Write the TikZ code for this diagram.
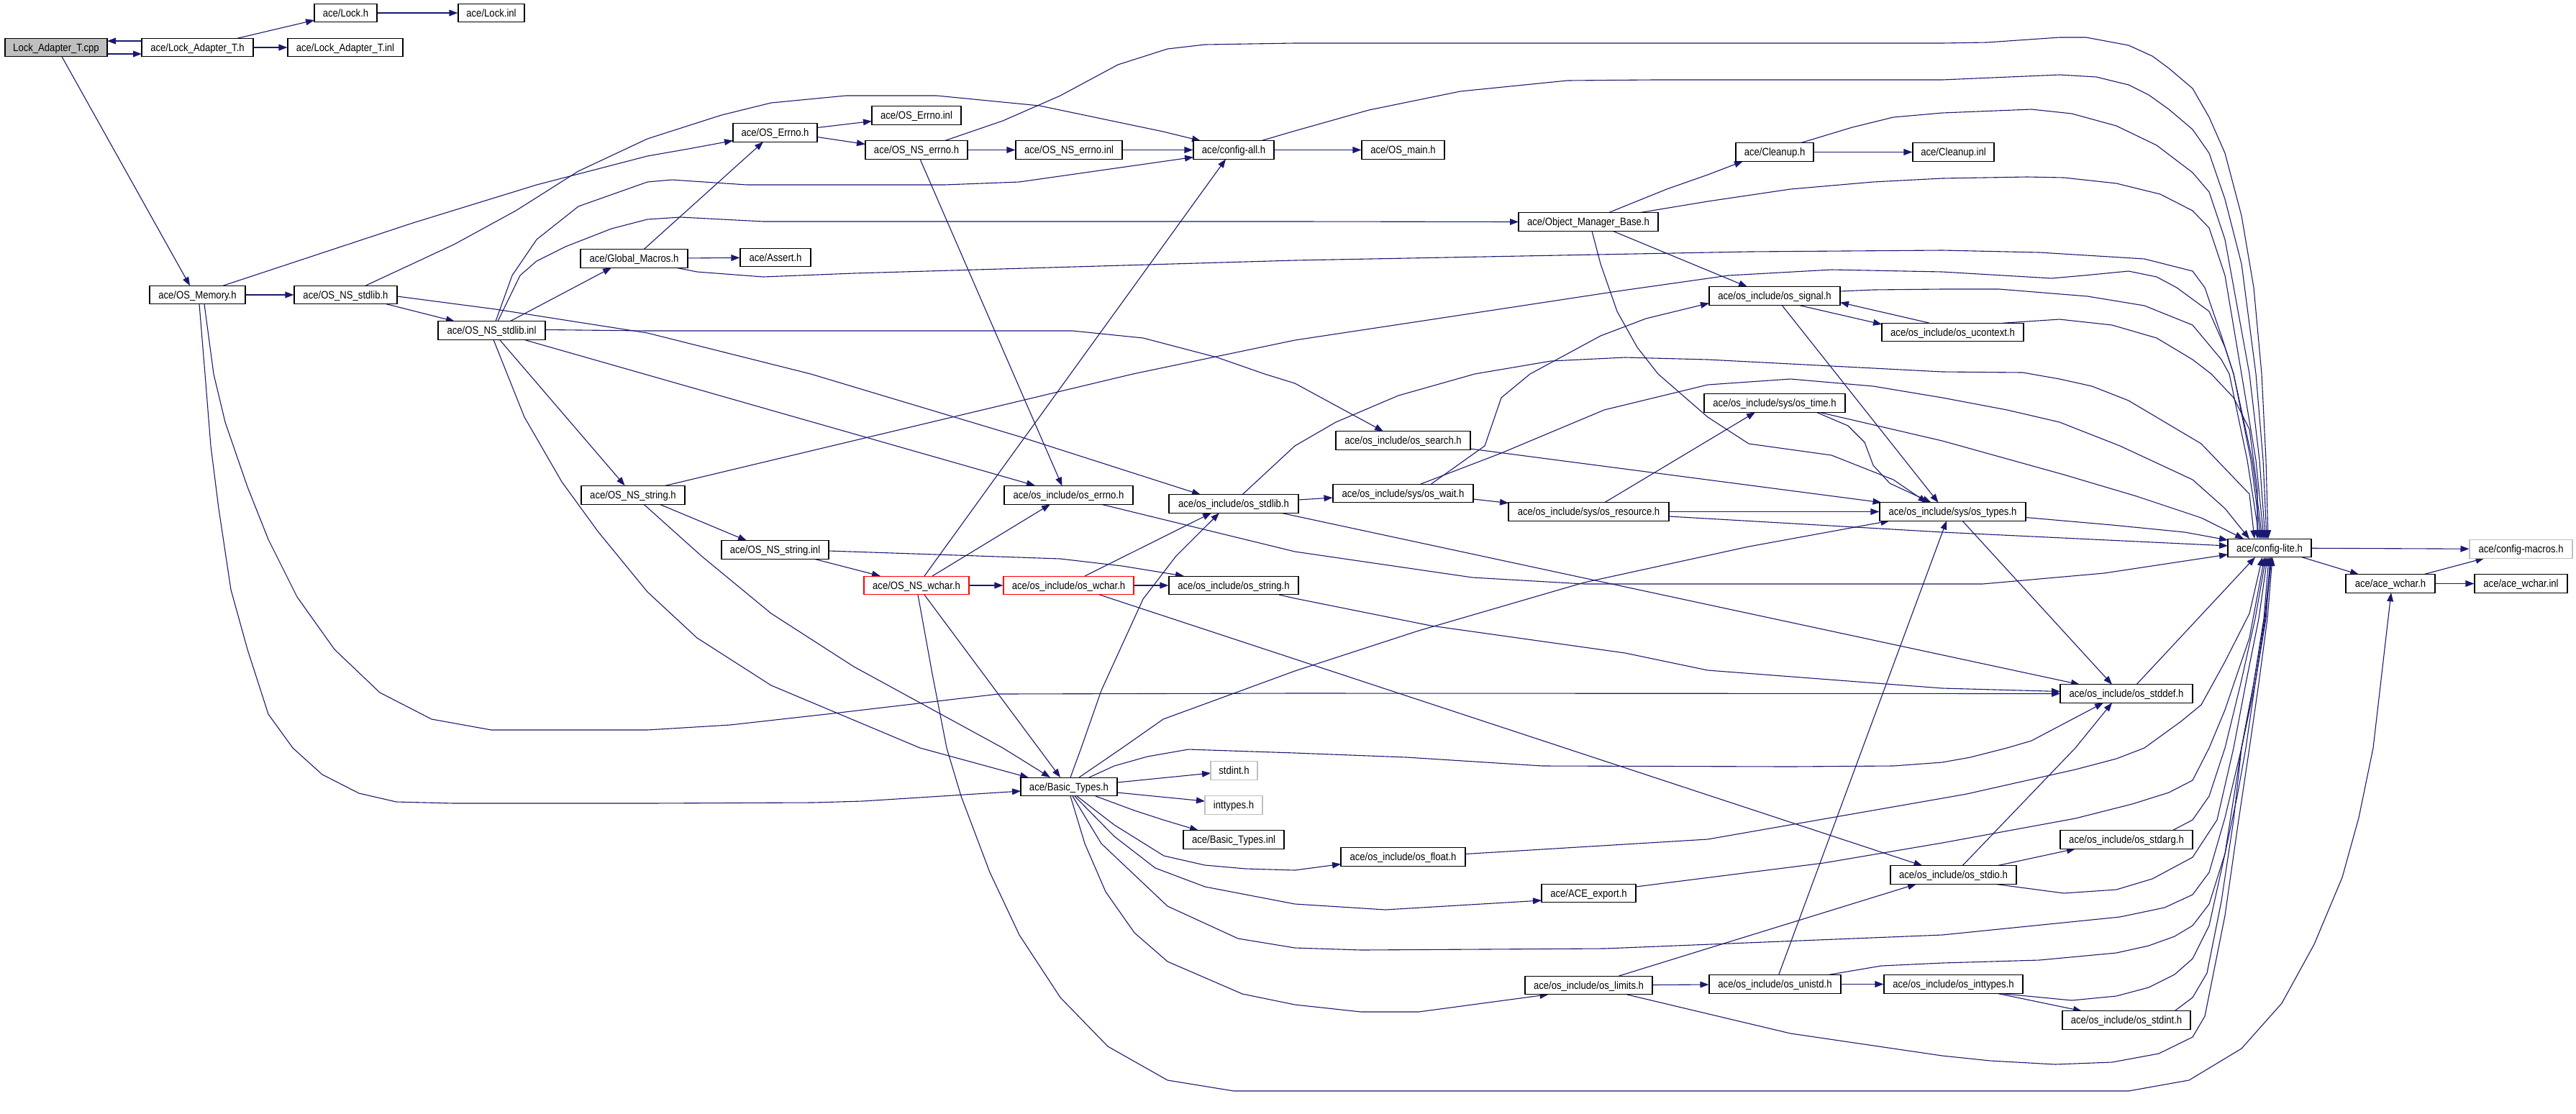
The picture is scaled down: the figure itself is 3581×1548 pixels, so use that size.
\documentclass[tikz,border=0pt]{standalone}
\usepackage{fontspec}
\newfontfamily\dfont{Liberation Sans}[FakeStretch=0.88]
\usetikzlibrary{calc,arrows.meta}
\definecolor{edgec}{RGB}{25,25,112}
\definecolor{gfill}{RGB}{191,191,191}
\definecolor{gline}{RGB}{191,191,191}
\pgfdeclarelayer{bg}
\pgfsetlayers{bg,main}
\tikzset{
  box/.style={draw=black,fill=white,line width=0.55pt,inner sep=0pt,minimum height=12.75pt,
    text height=6.8pt,text depth=1.5pt,font=\dfont\fontsize{7.45pt}{8pt}\selectfont},
  redbox/.style={draw=red},
  graybox/.style={draw=gline},
  edg/.style={draw=edgec,line width=0.55pt,-{Triangle[length=6pt,width=4.4pt]}}
}
\newcommand\nd[6][]{\node[box,minimum width=#5*0.5pt,#1] (#2) at (#3,#4) {#6};}
\begin{document}
\begin{tikzpicture}[x=0.5pt,y=-0.5pt]
\useasboundingbox (0,0) rectangle (3581,1548);
% nodes
\nd[fill=gfill]{cpp}{78}{66}{142}{Lock\_Adapter\_T.cpp}
\nd{LAh}{274.5}{66}{155}{ace/Lock\_Adapter\_T.h}
\nd{Lockh}{480.5}{18}{87}{ace/Lock.h}
\nd{Lockinl}{683}{18}{92}{ace/Lock.inl}
\nd{LAinl}{480}{66}{160}{ace/Lock\_Adapter\_T.inl}
\nd{OSMem}{274.5}{410}{133}{ace/OS\_Memory.h}
\nd{OSNSstdlibh}{480.5}{410}{143}{ace/OS\_NS\_stdlib.h}
\nd{nsinl}{683.5}{459.5}{149}{ace/OS\_NS\_stdlib.inl}
\nd{GM}{881.5}{359.5}{149}{ace/Global\_Macros.h}
\nd{OSErrnoh}{1077.5}{184.5}{117}{ace/OS\_Errno.h}
\nd{OSErrnoinl}{1274}{160.5}{124}{ace/OS\_Errno.inl}
\nd{OSNSerrnoh}{1274}{208.5}{142}{ace/OS\_NS\_errno.h}
\nd{OSNSerrnoinl}{1486}{208.5}{148}{ace/OS\_NS\_errno.inl}
\nd{configall}{1715}{208.5}{112}{ace/config-all.h}
\nd{Assert}{1078}{358}{98}{ace/Assert.h}
\nd{OSmain}{1950.5}{208.5}{115}{ace/OS\_main.h}
\nd{Cleanup}{2467}{211.5}{108}{ace/Cleanup.h}
\nd{Cleanupinl}{2715.5}{211.5}{113}{ace/Cleanup.inl}
\nd{OMB}{2208}{308.5}{194}{ace/Object\_Manager\_Base.h}
\nd{ossignal}{2467}{411.5}{182}{ace/os\_include/os\_signal.h}
\nd{osucontext}{2714.5}{462}{197}{ace/os\_include/os\_ucontext.h}
\nd{OSNSstringh}{880}{688.5}{144}{ace/OS\_NS\_string.h}
\nd{oserrno}{1485.5}{688.5}{179}{ace/os\_include/os\_errno.h}
\nd{osstdlib}{1715}{700.5}{180}{ace/os\_include/os\_stdlib.h}
\nd{OSNSstringinl}{1077.5}{764.5}{149}{ace/OS\_NS\_string.inl}
\nd[redbox]{OSNSwchar}{1274}{814}{146}{ace/OS\_NS\_wchar.h}
\nd[redbox]{oswchar}{1485.5}{814}{181}{ace/os\_include/os\_wchar.h}
\nd{osstring}{1715}{814}{180}{ace/os\_include/os\_string.h}
\nd{ossearch}{1950.5}{612.5}{187}{ace/os\_include/os\_search.h}
\nd{oswait}{1950.5}{686}{195}{ace/os\_include/sys/os\_wait.h}
\nd{osresource}{2208.5}{711.5}{223}{ace/os\_include/sys/os\_resource.h}
\nd{ostime}{2467}{560.5}{196}{ace/os\_include/sys/os\_time.h}
\nd{ostypes}{2714.5}{711.5}{203}{ace/os\_include/sys/os\_types.h}
\nd{configlite}{3155}{762}{116}{ace/config-lite.h}
\nd[graybox]{configmacros}{3504.5}{763.5}{143}{ace/config-macros.h}
\nd{acewchar}{3323}{811.5}{124}{ace/ace\_wchar.h}
\nd{acewcharinl}{3504.5}{811.5}{129}{ace/ace\_wchar.inl}
\nd{stddef}{2956}{964.5}{184}{ace/os\_include/os\_stddef.h}
\nd{BT}{1486}{1094}{134}{ace/Basic\_Types.h}
\nd[graybox]{stdint}{1715.5}{1071.5}{65}{stdint.h}
\nd[graybox]{inttypes}{1715}{1119.5}{80}{inttypes.h}
\nd{BTinl}{1715}{1167.5}{140}{ace/Basic\_Types.inl}
\nd{osfloat}{1950.5}{1191.5}{173}{ace/os\_include/os\_float.h}
\nd{ACEexport}{2208.5}{1242}{131}{ace/ACE\_export.h}
\nd{osstdio}{2715.5}{1216.5}{175}{ace/os\_include/os\_stdio.h}
\nd{oslimits}{2208.5}{1370}{177}{ace/os\_include/os\_limits.h}
\nd{osunistd}{2467.5}{1368.5}{183}{ace/os\_include/os\_unistd.h}
\nd{osinttypes}{2715.5}{1368.5}{193}{ace/os\_include/os\_inttypes.h}
\nd{osstdarg}{2956}{1167.5}{184}{ace/os\_include/os\_stdarg.h}
\nd{osstdint}{2956}{1418.5}{178}{ace/os\_include/os\_stdint.h}
% edges
\begin{pgfonlayer}{bg}
\draw[edg] ($(cpp)+(71,9)$) -- ($(LAh)+(-77.5,9)$);
\draw[edg] ($(LAh)+(-77.5,-9)$) -- ($(cpp)+(71,-9)$);
\draw[edg] ($(LAh)+(55.5,-12.75)$) -- ($(Lockh)+(-43.5,10)$);
\draw[edg] (LAh) -- (LAinl);
\draw[edg] (Lockh) -- (Lockinl);
\draw[edg] ($(cpp)+(8,12.75)$) -- ($(OSMem)+(-10.5,-12.75)$);
\draw[edg] (OSMem) -- (OSNSstdlibh);
\draw[edg] ($(OSMem)+(35.5,-12.75)$) -- (574,310) -- (746,257) -- (900,217) -- (957,207) -- ($(OSErrnoh)+(-58.5,11)$);
\draw[edg] ($(OSMem)+(2.5,12.75)$) -- (285,520) -- (293,620) -- (304,707) -- (321,820) -- (344,903) -- (373,993) -- (407,1040) -- (448,1077) -- (499,1103) -- (551,1115) -- (631,1117) -- (900,1117) -- (1130,1116) -- (1199,1114) -- ($(BT)+(-67,6)$);
\draw[edg] ($(OSMem)+(9.5,12.75)$) -- (297,520) -- (313,587) -- (344,677) -- (373,750) -- (413,830) -- (465,903) -- (528,963) -- (600,1000) -- (683,1015) -- (900,1015) -- (1015,1008) -- (1158,992) -- (1388,965) -- (1800,964) -- ($(stddef)+(-92,0)$);
\draw[edg] ($(OSNSstdlibh)+(56.5,12.75)$) -- ($(nsinl)+(-51.5,-12.75)$);
\draw[edg] ($(OSNSstdlibh)+(27.5,-12.75)$) -- (631,340) -- (717,293) -- (804,238) -- (900,193) -- (1003,160) -- (1072,143) -- (1176,133) -- (1302,133) -- (1445,147) -- (1617,183) -- ($(configall)+(-46,-12.75)$);
\draw[edg] ($(OSNSstdlibh)+(71.5,2)$) -- (689,430) -- (804,448) -- (900,463) -- (1127,520) -- (1417,607) -- ($(osstdlib)+(-46,-12.75)$);
\draw[edg] ($(nsinl)+(25.5,-12.75)$) -- ($(GM)+(-31.5,12.75)$);
\draw[edg] ($(nsinl)+(5.5,-12.75)$) -- (712,383) -- (746,333) -- (804,287) -- (900,253) -- (934,250) -- (1038,257) -- (1313,257) -- (1417,253) -- ($(configall)+(-56,10)$);
\draw[edg] ($(nsinl)+(8.5,-12.75)$) -- (723,383) -- (746,363) -- (786,343) -- (850,318) -- (900,305) -- (946,302) -- (1061,308) -- (1800,308) -- ($(OMB)+(-97,0)$);
\draw[edg] ($(nsinl)+(74.5,-1)$) -- (900,460) -- (1100,460) -- (1491,460) -- (1589,470) -- (1692,497) -- (1758,520) -- (1800,533) -- ($(ossearch)+(-27.5,-12.75)$);
\draw[edg] (nsinl) -- (oserrno);
\draw[edg] (nsinl) -- (OSNSstringh);
\draw[edg] ($(nsinl)+(2.5,12.75)$) -- (705,520) -- (729,580) -- (781,670) -- (832,740) -- (900,823) -- (969,887) -- (1072,953) -- (1279,1040) -- ($(BT)+(-56,-12.75)$);
\draw[edg] ($(GM)+(13.5,-12.75)$) -- ($(OSErrnoh)+(-16.5,12.75)$);
\draw[edg] (GM) -- (Assert);
\draw[edg] ($(OSErrnoh)+(58.5,-7)$) -- ($(OSErrnoinl)+(-62,8)$);
\draw[edg] ($(OSErrnoh)+(58.5,6)$) -- ($(OSNSerrnoh)+(-71,-8)$);
\draw[edg] (OSNSerrnoh) -- (OSNSerrnoinl);
\draw[edg] (OSNSerrnoinl) -- (configall);
\draw[edg] ($(OSNSerrnoh)+(5,12.75)$) -- ($(oserrno)+(-9,-12.75)$);
\draw[edg] (configall) -- (OSmain);
% into config-lite from above
\draw[edg] ($(OSNSerrnoh)+(39,-12.75)$) -- (1394,168) -- (1474,133) -- (1554,90) -- (1623,68) -- (1675,62) -- (1800,60) -- (2700,60) -- (2762,59) -- (2863,52) -- (2900,52) -- (2959,63) -- (2992,78) -- (3015,95) -- (3048,123) -- (3071,163) -- (3093,213) -- (3116,300) -- (3133,400) -- (3144,520) -- (3150,640) -- ($(configlite)+(-2,-12.75)$);
\draw[edg] ($(configall)+(38,-12.75)$) -- (1800,182) -- (1903,153) -- (2030,127) -- (2179,112) -- (2300,111) -- (2700,111) -- (2863,104) -- (2914,107) -- (2959,118) -- (2987,132) -- (3015,152) -- (3048,180) -- (3071,213) -- (3093,277) -- (3116,367) -- (3136,520) -- (3146,640) -- ($(configlite)+(-4,-12.75)$);
\draw[edg] ($(Cleanup)+(36,-12.75)$) -- (2575,177) -- (2632,163) -- (2700,157) -- (2824,152) -- (2880,158) -- (2942,175) -- (2998,202) -- (3048,240) -- (3071,267) -- (3093,333) -- (3127,520) -- (3141,640) -- ($(configlite)+(-6,-12.75)$);
\draw[edg] ($(OMB)+(71,-12.75)$) -- (2374,280) -- (2489,263) -- (2604,253) -- (2700,248) -- (2818,246) -- (2869,247) -- (2942,255) -- (3003,270) -- (3048,293) -- (3071,317) -- (3093,383) -- (3116,520) -- (3136,640) -- ($(configlite)+(-8,-12.75)$);
\draw[edg] ($(GM)+(58.5,12.75)$) -- (969,378) -- (1061,385) -- (1187,380) -- (1800,362) -- (2431,350) -- (2700,348) -- (2835,351) -- (2981,360) -- (3048,377) -- (3065,400) -- (3088,467) -- (3105,520) -- (3131,640) -- ($(configlite)+(-10,-12.75)$);
\draw[edg] ($(OSNSstringh)+(43,-12.75)$) -- (1575,520) -- (1800,473) -- (1972,447) -- (2248,405) -- (2403,383) -- (2546,375) -- (2700,378) -- (2852,387) -- (2897,383) -- (2959,377) -- (2998,385) -- (3026,400) -- (3071,433) -- (3093,483) -- (3105,520) -- (3129,640) -- ($(configlite)+(-12,-12.75)$);
\draw[edg] ($(ossignal)+(91,-6.5)$) -- (2604,403) -- (2700,402) -- (2779,402) -- (2902,412) -- (2981,425) -- (3048,452) -- (3088,500) -- (3099,520) -- (3124,640) -- ($(configlite)+(-14,-12.75)$);
\draw[edg] ($(osucontext)+(69.5,-12.75)$) -- (2863,444) -- (2936,452) -- (2998,470) -- (3048,500) -- (3074,520) -- (3105,553) -- (3127,597) -- (3138,680) -- ($(configlite)+(-17,-12.75)$);
\draw[edg] ($(osstdlib)+(12,-12.75)$) -- (1800,620) -- (1857,587) -- (1944,550) -- (2050,520) -- (2156,502) -- (2259,497) -- (2374,500) -- (2700,517) -- (2812,518) -- (2863,527) -- (2908,537) -- (2959,557) -- (3060,617) -- (3127,687) -- ($(configlite)+(-21,-12.75)$);
\draw[edg] ($(oswait)+(24.5,-13)$) -- (2087,630) -- (2230,570) -- (2374,535) -- (2489,527) -- (2604,537) -- (2700,553) -- (2790,570) -- (2863,587) -- (2947,620) -- (3048,667) -- (3093,707) -- ($(configlite)+(-28,-12.75)$);
\draw[edg] ($(ostime)+(62,12.75)$) -- (2700,613) -- (2869,660) -- (2970,690) -- (3060,720) -- ($(configlite)+(-36,-12.75)$);
% into config-lite from the left
\draw[edg] ($(ostypes)+(101.5,8)$) -- (2936,730) -- (3037,740) -- ($(configlite)+(-58,-11)$);
\draw[edg] ($(osresource)+(111.5,6.5)$) -- (2700,740) -- ($(configlite)+(-58,-3)$);
\draw[edg] ($(oserrno)+(45.5,12.75)$) -- (1800,767) -- (2047,803) -- (2202,812) -- (2700,812) -- (2756,812) -- (2925,797) -- ($(configlite)+(-58,9)$);
% into config-lite from below
\draw[edg] ($(stddef)+(14,-12.75)$) -- ($(configlite)+(-20,12.75)$);
\draw[edg] ($(osfloat)+(86.5,-4)$) -- (2374,1167) -- (2700,1110) -- (2734,1104) -- (2885,1070) -- (2942,1055) -- (2981,1040) -- (3032,1003) -- (3060,980) -- (3093,920) -- (3127,853) -- ($(configlite)+(-10,12.75)$);
\draw[edg] ($(ACEexport)+(65.5,-9)$) -- (2535,1200) -- (2700,1172) -- (2885,1138) -- (2964,1118) -- (3015,1102) -- (3048,1085) -- (3071,1040) -- (3093,987) -- (3127,887) -- ($(configlite)+(-7,12.75)$);
\draw[edg] ($(osstdarg)+(64,-12.75)$) -- (3048,1140) -- (3071,1107) -- (3093,1040) -- (3115,950) -- (3135,860) -- ($(configlite)+(-5,12.75)$);
\draw[edg] ($(osstdio)+(57.5,12.75)$) -- (2869,1242) -- (2942,1237) -- (2992,1222) -- (3048,1192) -- (3082,1140) -- (3105,1040) -- (3122,950) -- (3140,860) -- ($(configlite)+(-3,12.75)$);
\draw[edg] ($(BT)+(5,13)$) -- (1531,1173) -- (1623,1260) -- (1721,1305) -- (1800,1318) -- (1892,1321) -- (2230,1319) -- (2700,1300) -- (2947,1275) -- (3009,1262) -- (3048,1244) -- (3071,1213) -- (3093,1137) -- (3116,1040) -- (3133,950) -- (3147,860) -- ($(configlite)+(-1,12.75)$);
\draw[edg] ($(osunistd)+(72.5,-12.75)$) -- (2615,1343) -- (2700,1339) -- (2835,1335) -- (2942,1325) -- (2987,1315) -- (3023,1302) -- (3048,1287) -- (3071,1257) -- (3093,1187) -- (3110,1107) -- (3122,1040) -- (3135,950) -- (3150,860) -- ($(configlite)+(1,12.75)$);
\draw[edg] ($(osinttypes)+(63.5,12.75)$) -- (2880,1391) -- (2942,1385) -- (2987,1373) -- (3023,1355) -- (3048,1333) -- (3071,1287) -- (3093,1187) -- (3116,1040) -- (3133,950) -- (3148,860) -- ($(configlite)+(2,12.75)$);
\draw[edg] ($(osstdint)+(67,-12.75)$) -- (3048,1387) -- (3068,1353) -- (3088,1253) -- (3105,1140) -- (3116,1040) -- (3135,950) -- (3149,860) -- ($(configlite)+(3,12.75)$);
\draw[edg] ($(oslimits)+(53.5,13)$) -- (2489,1437) -- (2700,1468) -- (2767,1475) -- (2857,1480) -- (2936,1477) -- (3001,1465) -- (3048,1442) -- (3065,1413) -- (3093,1273) -- (3112,1140) -- (3127,1040) -- (3140,950) -- (3152,860) -- ($(configlite)+(4,12.75)$);
% middle region
\draw[edg] ($(OMB)+(28,-12.75)$) -- (2317,263) -- (2374,243) -- ($(Cleanup)+(-44,12.75)$);
\draw[edg] ($(OMB)+(34,12.75)$) -- ($(ossignal)+(-38,-12.75)$);
\draw[edg] ($(OMB)+(5,12.75)$) -- (2225,367) -- (2248,433) -- (2276,483) -- (2305,520) -- (2374,580) -- (2431,617) -- (2546,633) -- (2632,667) -- ($(ostypes)+(-36,-12.75)$);
\draw[edg] (Cleanup) -- (Cleanupinl);
\draw[edg] ($(ossignal)+(33,12.75)$) -- ($(osucontext)+(-98.5,-11)$);
\draw[edg] ($(osucontext)+(-33,-13)$) -- ($(ossignal)+(91,9)$);
\draw[edg] ($(ossignal)+(10,12.75)$) -- ($(ostypes)+(-20,-12.75)$);
\draw[edg] ($(OSNSstringh)+(37,12.75)$) -- ($(OSNSstringinl)+(-39.5,-12.75)$);
\draw[edg] ($(OSNSstringh)+(15,12.75)$) -- (975,773) -- (1072,853) -- (1187,927) -- (1394,1040) -- ($(BT)+(-26,-13)$);
\draw[edg] ($(OSNSstringinl)+(54.5,12.75)$) -- ($(OSNSwchar)+(-50,-13)$);
\draw[edg] ($(OSNSstringinl)+(74.5,1.5)$) -- (1359,773) -- (1474,777) -- (1560,787) -- ($(osstring)+(-69,-13)$);
\draw[edg] (OSNSwchar) -- (oswchar);
\draw[edg] ($(OSNSwchar)+(22,-13)$) -- ($(oserrno)+(-25.5,12.75)$);
\draw[edg] ($(OSNSwchar)+(11,-13)$) -- ($(configall)+(-11,12.75)$);
\draw[edg] ($(OSNSwchar)+(11,13)$) -- ($(BT)+(-12,-13)$);
\draw[edg] ($(OSNSwchar)+(2,13)$) -- (1296,937) -- (1316,1040) -- (1336,1107) -- (1376,1213) -- (1417,1300) -- (1474,1387) -- (1540,1455) -- (1623,1502) -- (1715,1517) -- (1800,1517) -- (2700,1517) -- (2959,1517) -- (3043,1502) -- (3116,1458) -- (3172,1395) -- (3217,1313) -- (3256,1220) -- (3279,1137) -- (3299,1040) -- ($(acewchar)+(1,12.75)$);
\draw[edg] (oswchar) -- (osstring);
\draw[edg] ($(oswchar)+(22.5,-13)$) -- ($(osstdlib)+(-31,12.75)$);
\draw[edg] ($(oswchar)+(43,13)$) -- ($(osstdio)+(-43,-12.75)$);
\draw[edg] (osstdlib) -- (oswait);
\draw[edg] ($(osstdlib)+(66,12.75)$) -- ($(stddef)+(-65,-12.75)$);
\draw[edg] ($(osstring)+(63,13)$) -- (1800,832) -- (1989,870) -- (2259,908) -- (2374,932) -- (2700,957) -- ($(stddef)+(-92,-3)$);
\draw[edg] ($(ossearch)+(93.5,11.5)$) -- ($(ostypes)+(-99,-12.75)$);
\draw[edg] ($(oswait)+(97.5,8)$) -- ($(osresource)+(-111.5,-12)$);
\draw[edg] ($(oswait)+(39,-13)$) -- (2064,620) -- (2087,553) -- (2127,520) -- (2225,467) -- (2288,443) -- ($(ossignal)+(-91,10)$);
\draw[edg] ($(osresource)+(22,-12.75)$) -- ($(ostime)+(-27,12.75)$);
\draw[edg] (osresource) -- (ostypes);
\draw[edg] ($(ostime)+(58,12.75)$) -- (2569,592) -- (2592,615) -- (2604,647) -- (2627,672) -- ($(ostypes)+(-30,-12.75)$);
\draw[edg] ($(ostypes)+(13.5,12.75)$) -- ($(stddef)+(-20,-12.75)$);
\draw[edg] (configlite) -- (configmacros);
\draw[edg] ($(configlite)+(45,12.75)$) -- ($(acewchar)+(-44,-12.75)$);
\draw[edg] ($(acewchar)+(46,-12.75)$) -- ($(configmacros)+(-51,12.75)$);
\draw[edg] (acewchar) -- (acewcharinl);
% Basic_Types.h
\draw[edg] ($(BT)+(67,-6)$) -- ($(stdint)+(-32.5,3.5)$);
\draw[edg] ($(BT)+(67,8)$) -- ($(inttypes)+(-40,-5.5)$);
\draw[edg] ($(BT)+(37,13)$) -- (1577,1127) -- (1617,1140) -- ($(BTinl)+(-49,-12.75)$);
\draw[edg] ($(BT)+(2,-13)$) -- (1503,1040) -- (1531,960) -- (1589,833) -- (1635,773) -- ($(osstdlib)+(-20,12.75)$);
\draw[edg] ($(BT)+(14,-13)$) -- (1560,1040) -- (1617,1000) -- (1800,933) -- (1972,877) -- (2202,810) -- (2431,760) -- ($(ostypes)+(-88,12.75)$);
\draw[edg] ($(BT)+(28,-13)$) -- (1549,1065) -- (1595,1052) -- (1652,1042) -- (1800,1047) -- (1955,1053) -- (2144,1065) -- (2489,1066) -- (2632,1065) -- (2700,1060) -- (2739,1053) -- (2790,1040) -- (2824,1030) -- ($(stddef)+(-32,12.75)$);
\draw[edg] ($(BT)+(11,13)$) -- (1549,1147) -- (1618,1190) -- (1675,1203) -- (1732,1208) -- (1800,1210) -- ($(osfloat)+(-86.5,10)$);
\draw[edg] ($(BT)+(8,13)$) -- (1549,1163) -- (1606,1207) -- (1675,1233) -- (1800,1257) -- (1926,1265) -- ($(ACEexport)+(-65.5,10)$);
\draw[edg] ($(BT)+(2,13)$) -- (1508,1173) -- (1537,1240) -- (1577,1297) -- (1623,1337) -- (1727,1382) -- (1800,1397) -- (1892,1407) -- (1972,1407) -- ($(oslimits)+(-56,12.75)$);
\draw[edg] (oslimits) -- (osunistd);
\draw[edg] ($(oslimits)+(42,-13)$) -- ($(osstdio)+(-51.5,12.75)$);
\draw[edg] (osunistd) -- (osinttypes);
\draw[edg] ($(osunistd)+(5,-12.75)$) -- ($(ostypes)+(-8.5,12.75)$);
\draw[edg] ($(osinttypes)+(60.5,12.75)$) -- ($(osstdint)+(-62,-12.75)$);
\draw[edg] ($(osstdio)+(60.5,-12.75)$) -- ($(osstdarg)+(-71,12.75)$);
\draw[edg] ($(osstdio)+(12.5,-12.75)$) -- (2885,1040) -- ($(stddef)+(-20,12.75)$);
\end{pgfonlayer}
\end{tikzpicture}
\end{document}
